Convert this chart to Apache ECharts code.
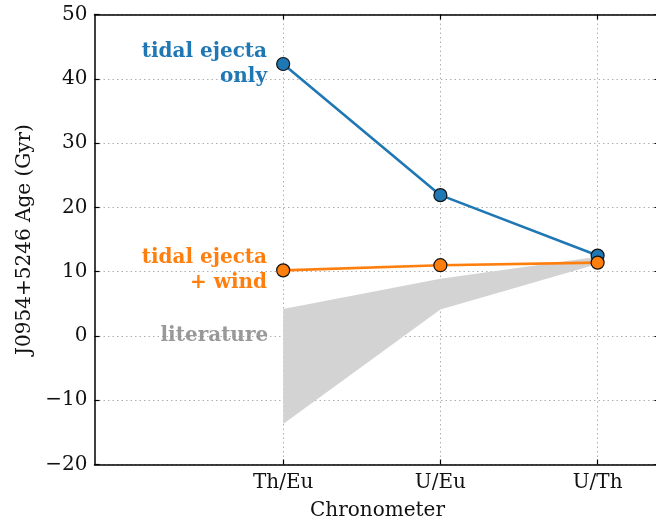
<!DOCTYPE html>
<html><head><meta charset="utf-8">
<script src="https://cdn.jsdelivr.net/npm/echarts@6/dist/echarts.min.js"></script>
<style>html,body{margin:0;padding:0;background:#fff}#c{width:656px;height:522px}</style>
</head><body><div id="c"></div>
<script>
// ---- data ----
const categories = ['Th/Eu', 'U/Eu', 'U/Th'];
const categoryPos = [0, 1, 2];
const tidalOnly = [42.3, 21.9, 12.5];
const tidalWind = [10.2, 11.0, 11.4];
const litLow = [-13.7, 4.1, 11.2];
const litHigh = [4.2, 8.9, 12.3];
const yMin = -20, yMax = 50, yStep = 10;
const labelOnly = 'tidal ejecta\nonly';
const labelWind = 'tidal ejecta\n+ wind';
const labelLit = 'literature';
const xAxisName = 'Chronometer';
const yAxisName = 'J0954+5246 Age (Gyr)';

const FONT = 'DejaVu Serif';
const BLUE = '#1f77b4', ORANGE = '#ff7f0e', GRAY = '#808080';
const gridLine = { show: true, lineStyle: { color: '#b0b0b0', type: [1.5, 3], width: 1 } };
const minus = v => String(v).replace('-', '\u2212');

const chart = echarts.init(document.getElementById('c'), null, { renderer: 'canvas' });

function lineSeries(name, vals, color, label) {
  return {
    name, type: 'line', xAxisIndex: 0, yAxisIndex: 0,
    data: vals.map((v, i) => [categoryPos[i], v]),
    symbol: 'circle', symbolSize: 13,
    lineStyle: { color, width: 2.6 },
    itemStyle: { color, borderColor: '#111', borderWidth: 1.2 },
    label: {
      show: true, position: 'left', distance: 9,
      formatter: p => p.dataIndex === 0 ? label : '',
      color, fontFamily: FONT, fontWeight: 'bold', fontSize: 20, lineHeight: 25, align: 'right'
    },
    emphasis: { disabled: true }, animation: false, z: 3
  };
}

const option = {
  animation: false,
  grid: { left: 94.5, top: 14.5, width: 566, height: 450, outerBoundsMode: 'none', containLabel: false },
  xAxis: [{
    type: 'value', min: -1.2, max: 2.4, position: 'bottom',
    name: xAxisName, nameLocation: 'middle', nameGap: 36,
    nameTextStyle: { fontFamily: FONT, fontSize: 20, color: '#111' },
    axisLine: { show: true, onZero: false, lineStyle: { color: '#000', width: 1.5 } },
    axisTick: { show: true, inside: true, length: 5, customValues: categoryPos, lineStyle: { color: '#000', width: 1.2 } },
    axisLabel: { customValues: categoryPos, formatter: v => categories[Math.round(v)] || '', fontFamily: FONT, fontSize: 20, color: '#111', margin: 8 },
    splitLine: gridLine
  }, {
    type: 'value', min: -1.2, max: 2.4, position: 'top',
    axisLine: { show: true, onZero: false, lineStyle: { color: '#000', width: 1.5 } },
    axisTick: { show: true, inside: true, length: 5, customValues: categoryPos, lineStyle: { color: '#000', width: 1.2 } },
    axisLabel: { show: false }, splitLine: { show: false }
  }],
  yAxis: [{
    type: 'value', min: yMin, max: yMax, interval: yStep, position: 'left',
    name: yAxisName, nameLocation: 'middle', nameGap: 60,
    nameTextStyle: { fontFamily: FONT, fontSize: 20, color: '#111' },
    axisLine: { show: true, onZero: false, lineStyle: { color: '#000', width: 1.5 } },
    axisTick: { show: true, inside: true, length: 5, lineStyle: { color: '#000', width: 1.2 } },
    axisLabel: { formatter: minus, fontFamily: FONT, fontSize: 20, color: '#111', margin: 7 },
    splitLine: gridLine
  }, {
    type: 'value', min: yMin, max: yMax, interval: yStep, position: 'right',
    axisLine: { show: true, onZero: false, lineStyle: { color: '#000', width: 1.5 } },
    axisTick: { show: true, inside: true, length: 6, lineStyle: { color: '#000', width: 1.2 } },
    axisLabel: { show: false }, splitLine: { show: false }
  }],
  series: [
    {
      name: 'literature', type: 'custom', xAxisIndex: 0, yAxisIndex: 0,
      data: [[categoryPos[0], 0]],
      renderItem: (params, api) => {
        const pts = [];
        litHigh.forEach((v, i) => pts.push(api.coord([categoryPos[i], v])));
        for (let i = litLow.length - 1; i >= 0; i--) pts.push(api.coord([categoryPos[i], litLow[i]]));
        return { type: 'polygon', shape: { points: pts }, style: { fill: '#d3d3d3' }, z2: 1 };
      },
      z: 1, silent: true
    },
    {
      name: 'literatureLabel', type: 'scatter', xAxisIndex: 0, yAxisIndex: 0,
      data: [[categoryPos[0], 0]], symbolSize: 0,
      label: { show: true, position: 'left', distance: 15, formatter: labelLit, color: GRAY, fontFamily: FONT, fontWeight: 'bold', fontSize: 20 },
      silent: true, z: 2
    },
    lineSeries('tidal ejecta only', tidalOnly, BLUE, labelOnly),
    lineSeries('tidal ejecta + wind', tidalWind, ORANGE, labelWind)
  ]
};
chart.setOption(option);
</script>
</body></html>
